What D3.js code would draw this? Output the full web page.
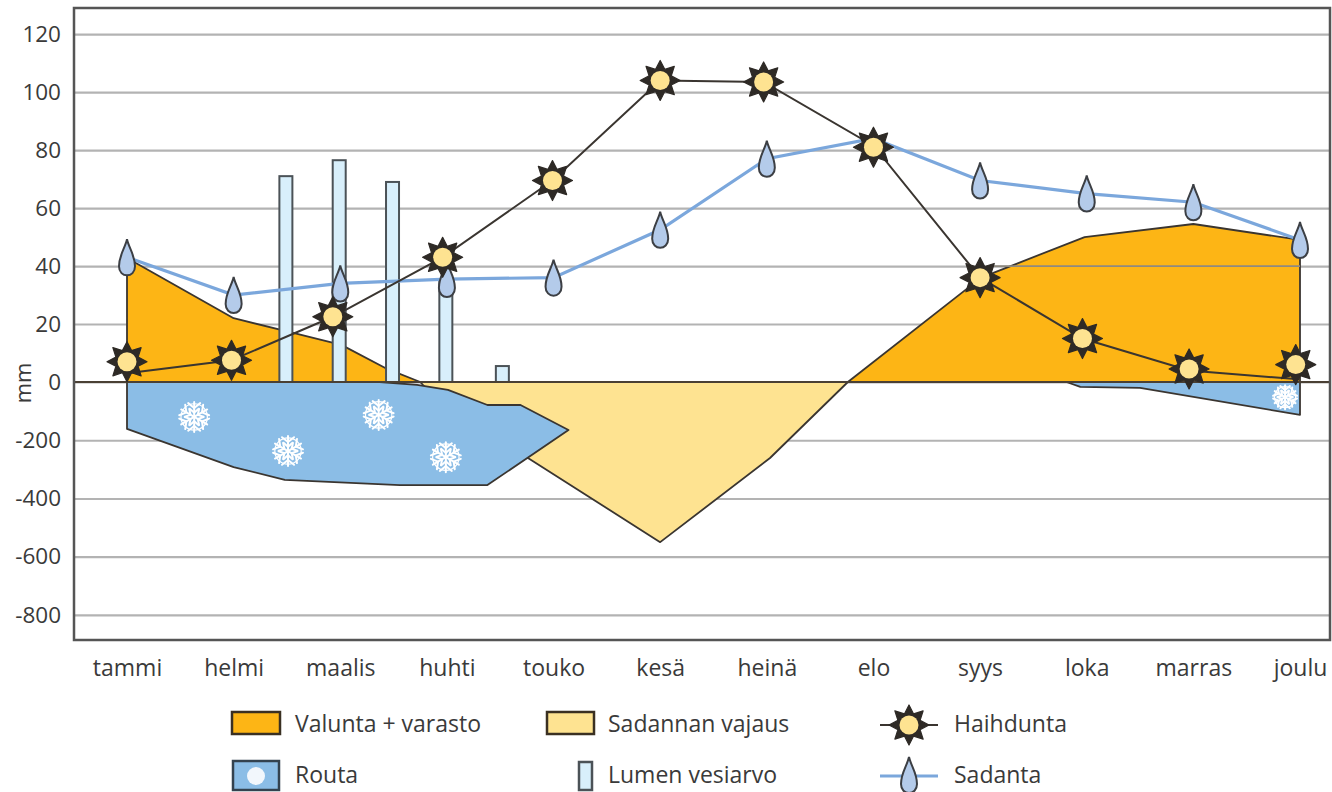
<!DOCTYPE html>
<html>
<head>
<meta charset="utf-8">
<script src="https://cdn.jsdelivr.net/npm/d3@7"></script>
<style>
  body { margin: 0; background: #fff; }
  text { font-family: "Open Sans", sans-serif; fill: #3a3a3a; }
</style>
</head>
<body>
<div id="chart"></div>
<script>
// Data. Positions along x are in months (0 = tammi, 11 = joulu)
const months = ["tammi", "helmi", "maalis", "huhti", "touko", "kesä", "heinä", "elo", "syys", "loka", "marras", "joulu"];
const yTicks = [120, 100, 80, 60, 40, 20, 0, -200, -400, -600, -800];

const sadanta = [43, 30, 34, 35.5, 36, 52.5, 77, 84, 69.5, 65, 62, 49];

const haihduntaPos = [0, -0.02, -0.07, -0.04, -0.01, 0, -0.03, 0, 0, -0.04, -0.04, -0.04];
const haihduntaLine = [3, 7.5, 22.5, 43, 69.5, 104, 103.5, 81.5, 36, 15, 4, 1];
const haihduntaMark = [7, 7.5, 22.5, 43, 69.5, 104, 103.5, 81, 36, 15, 4.5, 6];

const lumenPos = [1.49, 1.99, 2.49, 2.99, 3.52];
const lumen = [71, 76.5, 69, 35, 5.5];

const valuntaAX = [0, 1, 1.53, 2.01, 2.44, 2.75];
const valuntaAY = [42.8, 22, 17.2, 12.8, 4.5, 0];
const valuntaBX = [6.76, 8.01, 8.98, 10, 11];
const valuntaBY = [0, 36, 50, 54.5, 49];

const vajausX = [2.75, 6.76, 6.03, 5, 3.76, 3];
const vajausY = [0, 0, -261, -550, -261, -100];

const routaAX = [0, 2.37, 2.72, 3.01, 3.38, 3.69, 4.14, 3.38, 2.56, 1.48, 1, 0];
const routaAY = [0, 0, -10, -27, -79, -79, -165, -354, -354, -336, -292, -161];
const routaBX = [8.81, 8.94, 9.5, 11, 11];
const routaBY = [0, -17, -20, -113, 0];

const flakeX = [0.63, 1.51, 2.36, 2.99, 10.86];
const flakeY = [-120, -237, -113, -258, -52];

const width = 1332, height = 792;
const left = 74, right = 1330, top_ = 8, bottom = 640;

const svg = d3.select("#chart").append("svg")
    .attr("width", width)
    .attr("height", height)
    .style("display", "block");

// Scales - the y axis changes pace at zero, 20 mm above and 200 mm below take the same room
const x = d3.scaleLinear().domain([0, 11]).range([127, 1300]);
const y = d3.scaleLinear().domain([-886, 0, 129]).range([bottom, 382, top_]);

const orange = "#fdb515", yellow = "#fee391", blue = "#8bbde6", ice = "#d8effb";
const rainLine = "#7ba7dc", rainDrop = "#b4cbea", dark = "#3a3530";

// Axes and gridlines
const yAxis = svg.append("g")
    .attr("transform", `translate(${left},0)`)
    .call(d3.axisLeft(y).tickValues(yTicks).tickSize(-(right - left)).tickPadding(13).tickFormat(d => d));
yAxis.select(".domain").remove();
yAxis.selectAll(".tick line").attr("stroke", "#b3b3b3").attr("stroke-width", 2.2);
yAxis.selectAll(".tick text").style("font-size", "22.5px").attr("fill", null);

svg.append("g")
    .attr("transform", `translate(0,${bottom})`)
    .call(d3.axisBottom(x).tickValues(d3.range(12)).tickSize(0).tickPadding(20).tickFormat(i => months[i]))
    .call(g => g.select(".domain").remove())
    .selectAll("text").style("font-size", "23px").attr("fill", null);

svg.append("text")
    .attr("transform", "translate(31,383) rotate(-90)")
    .attr("text-anchor", "middle")
    .style("font-size", "22px")
    .text("mm");

// Areas
const polygon = (xs, ys) => d3.line().curve(d3.curveLinearClosed)
    .x(i => x(xs[i])).y(i => y(ys[i]))(d3.range(xs.length));

function drawPoly(xs, ys, fill) {
    svg.append("path")
        .attr("d", polygon(xs, ys))
        .attr("fill", fill)
        .attr("stroke", dark)
        .attr("stroke-width", 1.8)
        .attr("stroke-linejoin", "round");
}

drawPoly(vajausX, vajausY, yellow);
drawPoly([0, ...valuntaAX], [0, ...valuntaAY], orange);
drawPoly([...valuntaBX, 11], [...valuntaBY, 0], orange);
drawPoly(routaAX, routaAY, blue);
drawPoly(routaBX, routaBY, blue);

// only the 40 mm gridline shows through the orange on the right
svg.append("line")
    .attr("x1", x(8.1)).attr("x2", x(11))
    .attr("y1", y(40)).attr("y2", y(40))
    .attr("stroke", "#8f8a80").attr("stroke-width", 1.8);

// Snowflakes
function snowflake(g, r) {
    d3.range(6).forEach(k => {
        const spoke = g.append("g").attr("transform", `rotate(${k * 60})`);
        spoke.append("line").attr("x1", 0).attr("y1", 0).attr("x2", 0).attr("y2", -r);
        spoke.append("path").attr("d", `M${-r * 0.4},${-r * 0.92}L0,${-r * 0.6}L${r * 0.4},${-r * 0.92}`).attr("fill", "none");
        spoke.append("path").attr("d", `M${-r * 0.3},${-r * 0.55}L0,${-r * 0.28}L${r * 0.3},${-r * 0.55}`).attr("fill", "none");
    });
    g.append("circle").attr("r", r * 0.88).attr("fill", "none").attr("stroke-width", 1.2);
    g.attr("stroke", "#fff").attr("stroke-width", 2).attr("stroke-linecap", "round");
}
d3.range(flakeX.length).forEach(i => {
    snowflake(svg.append("g").attr("transform", `translate(${x(flakeX[i])},${y(flakeY[i])})`), i === 4 ? 12 : 15);
});

// Snow water equivalent bars
svg.append("g").selectAll("rect")
    .data(lumen)
    .join("rect")
    .attr("x", (d, i) => x(lumenPos[i]) - 6.5)
    .attr("y", d => y(d))
    .attr("width", 13)
    .attr("height", d => y(0) - y(d))
    .attr("fill", ice)
    .attr("stroke", "#4b5257")
    .attr("stroke-width", 2);

// Zero line
svg.append("line")
    .attr("x1", left).attr("x2", right)
    .attr("y1", y(0)).attr("y2", y(0))
    .attr("stroke", "#4a4034").attr("stroke-width", 2);

// Lines
svg.append("path")
    .datum(sadanta)
    .attr("fill", "none")
    .attr("stroke", rainLine)
    .attr("stroke-width", 3.2)
    .attr("d", d3.line().x((d, i) => x(i)).y(d => y(d)));

svg.append("path")
    .datum(haihduntaLine)
    .attr("fill", "none")
    .attr("stroke", dark)
    .attr("stroke-width", 2)
    .attr("d", d3.line().x((d, i) => x(i + haihduntaPos[i])).y(d => y(d)));

// Markers
function drop(g) {
    g.append("path")
        .attr("d", "M0,-18C2,-9 8,-2 8,9C8,15 4,18 0,18C-4,18 -8,15 -8,9C-8,-2 -2,-9 0,-18Z")
        .attr("fill", rainDrop)
        .attr("stroke", "#3c3f44")
        .attr("stroke-width", 2);
}

function sun(g) {
    const pts = d3.range(16).map(k => [k * Math.PI / 8, k % 2 ? 12 : 20]);
    g.append("path")
        .attr("d", d3.lineRadial().curve(d3.curveLinearClosed)(pts))
        .attr("fill", "#2e2a26")
        .attr("stroke", "#2e2a26")
        .attr("stroke-width", 1.2)
        .attr("stroke-linejoin", "round");
    g.append("circle").attr("r", 9.5).attr("fill", yellow);
}

// the elo drop sits wholly behind the sun in the original, so it is left out
sadanta.forEach((d, i) => {
    if (months[i] !== "elo") drop(svg.append("g").attr("transform", `translate(${x(i)},${y(d)})`));
});
haihduntaMark.forEach((d, i) => sun(svg.append("g").attr("transform", `translate(${x(i + haihduntaPos[i])},${y(d)})`)));

// Legend
const legendNames = ["Valunta + varasto", "Sadannan vajaus", "Haihdunta", "Routa", "Lumen vesiarvo", "Sadanta"];
const textX = [295, 608, 954], textY = [732, 783];
legendNames.forEach((name, i) => {
    svg.append("text")
        .attr("x", textX[i % 3])
        .attr("y", textY[Math.floor(i / 3)])
        .style("font-size", "23px")
        .text(name);
});

function swatch(px, py, w, h, fill, stroke) {
    svg.append("rect")
        .attr("x", px).attr("y", py).attr("width", w).attr("height", h)
        .attr("fill", fill).attr("stroke", stroke).attr("stroke-width", 2.5);
}
swatch(232, 712, 48, 22, orange, "#3a3022");
swatch(547, 712, 47, 22, yellow, "#3a3022");
swatch(233, 761, 46, 29, blue, "#33424f");
swatch(579, 762, 13, 28, ice, "#4b5257");
svg.append("circle").attr("cx", 256).attr("cy", 776).attr("r", 9).attr("fill", "#f2f7fc");

svg.append("line").attr("x1", 880).attr("x2", 938).attr("y1", 725).attr("y2", 725)
    .attr("stroke", dark).attr("stroke-width", 2);
sun(svg.append("g").attr("transform", "translate(909,725)"));
svg.append("line").attr("x1", 880).attr("x2", 938).attr("y1", 776).attr("y2", 776)
    .attr("stroke", rainLine).attr("stroke-width", 3);
drop(svg.append("g").attr("transform", "translate(909,775)"));

// Frame on top
svg.append("rect")
    .attr("x", left).attr("y", top_)
    .attr("width", right - left).attr("height", bottom - top_)
    .attr("fill", "none")
    .attr("stroke", "#555")
    .attr("stroke-width", 2.5);
</script>
</body>
</html>
